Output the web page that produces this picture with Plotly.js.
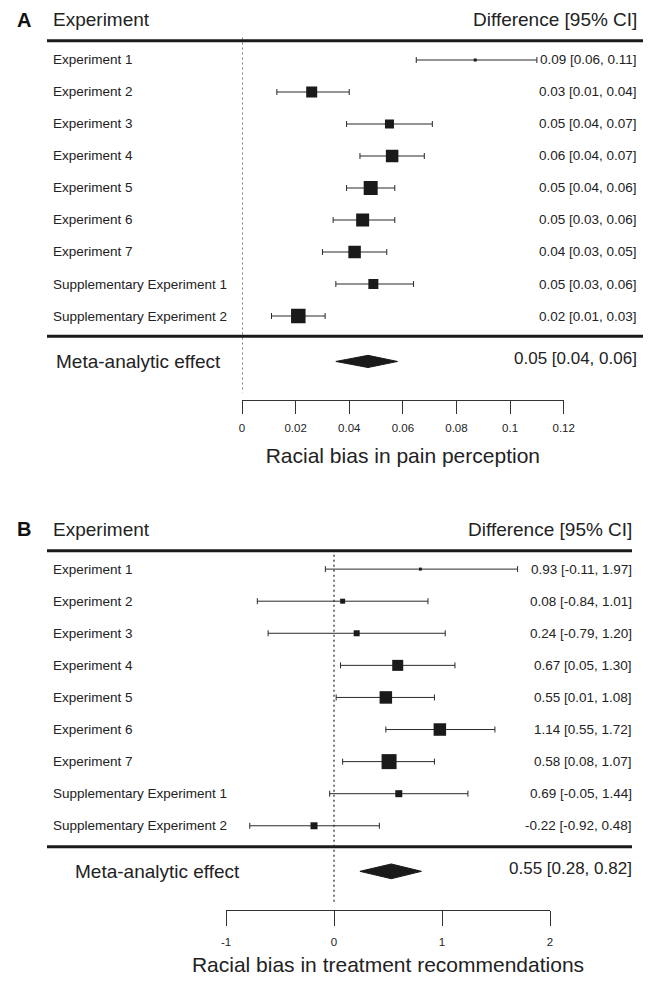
<!DOCTYPE html>
<html>
<head>
<meta charset="utf-8">
<script src="https://cdn.plot.ly/plotly-3.0.1.min.js"></script>
<style>html,body{margin:0;padding:0;background:#fff;}#chart{width:652px;height:981px;}</style>
</head>
<body>
<div id="chart"></div>
<script>
// ---------- data ----------
var studies = ['Experiment 1','Experiment 2','Experiment 3','Experiment 4','Experiment 5','Experiment 6','Experiment 7','Supplementary Experiment 1','Supplementary Experiment 2'];

// Panel A: racial bias in pain perception (plotted positions)
var A_est = [0.087, 0.026, 0.055, 0.056, 0.048, 0.045, 0.042, 0.049, 0.021];
var A_lo  = [0.065, 0.013, 0.039, 0.044, 0.039, 0.034, 0.030, 0.035, 0.011];
var A_hi  = [0.110, 0.040, 0.071, 0.068, 0.057, 0.057, 0.054, 0.064, 0.031];
var A_weight = [3, 11, 9, 12.5, 14, 13, 12.5, 10, 14.5];
var A_labels = ['0.09 [0.06, 0.11]','0.03 [0.01, 0.04]','0.05 [0.04, 0.07]','0.06 [0.04, 0.07]','0.05 [0.04, 0.06]','0.05 [0.03, 0.06]','0.04 [0.03, 0.05]','0.05 [0.03, 0.06]','0.02 [0.01, 0.03]'];
var A_meta = [0.035, 0.047, 0.058]; // lo, est, hi
var A_meta_label = '0.05 [0.04, 0.06]';
var A_ticks = [0, 0.02, 0.04, 0.06, 0.08, 0.1, 0.12];
var A_ticktext = ['0','0.02','0.04','0.06','0.08','0.1','0.12'];

// Panel B: racial bias in treatment recommendations
var B_est = [0.80, 0.08, 0.21, 0.59, 0.48, 0.98, 0.51, 0.60, -0.185];
var B_lo  = [-0.08, -0.71, -0.61, 0.06, 0.02, 0.48, 0.08, -0.04, -0.78];
var B_hi  = [1.70, 0.87, 1.03, 1.12, 0.93, 1.49, 0.93, 1.24, 0.42];
var B_weight = [3, 5, 6, 11, 12.5, 12.5, 15, 7, 7];
var B_labels = ['0.93 [-0.11, 1.97]','0.08 [-0.84, 1.01]','0.24 [-0.79, 1.20]','0.67 [0.05, 1.30]','0.55 [0.01, 1.08]','1.14 [0.55, 1.72]','0.58 [0.08, 1.07]','0.69 [-0.05, 1.44]','-0.22 [-0.92, 0.48]'];
var B_meta = [0.24, 0.53, 0.81];
var B_meta_label = '0.55 [0.28, 0.82]';
var B_ticks = [-1, 0, 1, 2];
var B_ticktext = ['-1','0','1','2'];

// ---------- build ----------
var FONT = 'Liberation Sans, Arial, sans-serif';
var INK = '#1a1a1a';
var rows = studies.map(function(_, i){ return i; });
var META_ROW = 9.42;

function panel(est, lo, hi, w, meta, xa, ya, halfH){
  var pts = {
    type:'scatter', mode:'markers', x:est, y:rows, xaxis:xa, yaxis:ya,
    marker:{symbol:'square', size:w, color:INK, opacity:1, line:{width:0}},
    error_x:{type:'data', symmetric:false,
      array: hi.map(function(h,i){return h-est[i];}),
      arrayminus: lo.map(function(l,i){return est[i]-l;}),
      color:'#2a2a2a', thickness:1, width:3},
    hoverinfo:'skip', showlegend:false, cliponaxis:false
  };
  var dia = {
    type:'scatter', mode:'lines', fill:'toself', fillcolor:INK,
    x:[meta[0], meta[1], meta[2], meta[1], meta[0]],
    y:[META_ROW, META_ROW-halfH, META_ROW, META_ROW+halfH, META_ROW],
    xaxis:xa, yaxis:ya, line:{color:INK, width:1},
    hoverinfo:'skip', showlegend:false
  };
  return [pts, dia];
}

var data = panel(A_est, A_lo, A_hi, A_weight, A_meta, 'x', 'y', 0.19)
  .concat(panel(B_est, B_lo, B_hi, B_weight, B_meta, 'x2', 'y2', 0.23));

var ann = [];
function addPanelText(letter, yref, labels, metaLabel, rightX, metaLeftX){
  ann.push({xref:'paper', yref:yref, x:15/652, y:-1.25, text:'<b>'+letter+'</b>', showarrow:false, xanchor:'left', yanchor:'middle', font:{family:FONT, size:20, color:'#111'}});
  ann.push({xref:'paper', yref:yref, x:51/652, y:-1.25, text:'Experiment', showarrow:false, xanchor:'left', yanchor:'middle', font:{family:FONT, size:19, color:'#222'}});
  ann.push({xref:'paper', yref:yref, x:rightX, y:-1.25, text:'Difference [95% CI]', showarrow:false, xanchor:'right', yanchor:'middle', font:{family:FONT, size:19, color:'#222'}});
  studies.forEach(function(s, i){
    ann.push({xref:'paper', yref:yref, x:51/652, y:i, text:s, showarrow:false, xanchor:'left', yanchor:'middle', font:{family:FONT, size:13.5, color:'#222'}});
    ann.push({xref:'paper', yref:yref, x:rightX, y:i, text:labels[i], showarrow:false, xanchor:'right', yanchor:'middle', font:{family:FONT, size:13.5, color:'#222'}});
  });
  ann.push({xref:'paper', yref:yref, x:metaLeftX, y:META_ROW, text:'Meta-analytic effect', showarrow:false, xanchor:'left', yanchor:'middle', font:{family:FONT, size:19, color:'#222'}});
  ann.push({xref:'paper', yref:yref, x:rightX, y:META_ROW-0.1, text:metaLabel, showarrow:false, xanchor:'right', yanchor:'middle', font:{family:FONT, size:17, color:'#222'}});
}
addPanelText('A', 'y', A_labels, A_meta_label, 639/652, 54/652);
addPanelText('B', 'y2', B_labels, B_meta_label, 634/652, 73/652);

var shapes = [
  {type:'line', xref:'paper', yref:'y', x0:47/652, x1:643/652, y0:-0.6, y1:-0.6, line:{color:INK, width:3}},
  {type:'line', xref:'paper', yref:'y', x0:47/652, x1:643/652, y0:8.63, y1:8.63, line:{color:INK, width:3}},
  {type:'line', xref:'x', yref:'y', x0:0, x1:0, y0:-0.7, y1:10.4, line:{color:'#222', width:1.2, dash:'2px,3px'}},
  {type:'line', xref:'paper', yref:'y2', x0:47/652, x1:632/652, y0:-0.57, y1:-0.57, line:{color:INK, width:3}},
  {type:'line', xref:'paper', yref:'y2', x0:47/652, x1:632/652, y0:8.65, y1:8.65, line:{color:INK, width:3}},
  {type:'line', xref:'x2', yref:'y2', x0:0, x1:0, y0:-0.6, y1:10.4, line:{color:'#222', width:1.2, dash:'2px,3px'}}
];

function xaxisDef(domain, range, tv, tt, title, tlen, lstand, tstand){
  return {domain:domain, range:range, tickvals:tv, ticktext:tt, showline:true, linecolor:'#333', linewidth:1,
    ticks:'outside', ticklen:tlen, tickwidth:1, tickcolor:'#333', showgrid:false, zeroline:false,
    ticklabelstandoff:lstand,
    tickfont:{family:FONT, size:11.5, color:'#222'},
    title:{text:title, font:{family:FONT, size:21, color:'#222'}, standoff:tstand}, fixedrange:true};
}
function yaxisDef(domain){
  return {domain:domain, range:[10.625, -1.25], visible:false, showgrid:false, zeroline:false, fixedrange:true};
}

var layout = {
  width:652, height:981, margin:{l:0, r:0, t:0, b:0},
  paper_bgcolor:'#fff', plot_bgcolor:'#fff',
  xaxis: xaxisDef([242/652, 563.7/652], [0, 0.12], A_ticks, A_ticktext, 'Racial bias in pain perception', 13, 4, 15),
  yaxis: yaxisDef([1-400/981, 1-20/981]),
  xaxis2: xaxisDef([226/652, 550/652], [-1, 2], B_ticks, B_ticktext, 'Racial bias in treatment recommendations', 15, 6, 10),
  yaxis2: yaxisDef([1-910/981, 1-529/981]),
  annotations: ann, shapes: shapes, showlegend:false
};
layout.xaxis.anchor = 'y';
layout.xaxis2.anchor = 'y2';
layout.yaxis.anchor = 'x';
layout.yaxis2.anchor = 'x2';

Plotly.newPlot('chart', data, layout, {staticPlot:true, displayModeBar:false});
</script>
</body>
</html>
